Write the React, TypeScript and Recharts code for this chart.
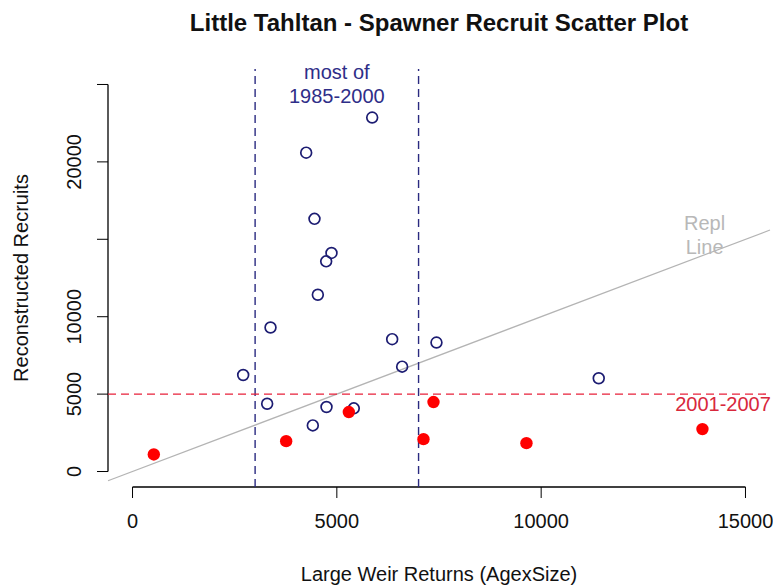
import React from "react";
import {
    ScatterChart,
    Scatter,
    XAxis,
    YAxis,
    ReferenceLine,
    ReferenceDot,
} from "recharts";

// 1985-2000 (open circles)
const earlyWeir = [5865, 4250, 4453, 4869, 4739, 4535, 2708, 3377, 3295, 6354, 6598, 7438, 4747, 5415, 4412, 11409];
const earlyRecruits = [22863, 20596, 16321, 14119, 13575, 11418, 6237, 9301, 4378, 8549, 6775, 8329, 4165, 4080, 2979, 6023];

// 2001-2007 (filled red)
const lateWeir = [521, 3760, 5293, 7365, 7120, 9640, 13947];
const lateRecruits = [1101, 1962, 3841, 4488, 2092, 1833, 2740];

const xTicks = [0, 5000, 10000, 15000];
const yTicks = [0, 5000, 10000, 15000, 20000, 25000];
const yTickLabels = ["0", "5000", "10000", "", "20000", ""];

const X_DOMAIN: [number, number] = [-600, 15600];
const Y_DOMAIN: [number, number] = [-1000, 26000];

const NAVY = "#1c1c72";
const RED = "#ff0000";
const FONT = "'Liberation Sans', Arial, sans-serif";

const earlyData = earlyWeir.map((x, i) => ({ x, y: earlyRecruits[i] }));
const lateData = lateWeir.map((x, i) => ({ x, y: lateRecruits[i] }));

const XTick = ({ x, y, payload }: any) => (
    <text x={x} y={y + 28} textAnchor="middle" fontSize={20} fontFamily={FONT} fill="#111">
        {payload.value}
    </text>
);

const YTick = ({ x, y, payload }: any) => {
    const idx = yTicks.indexOf(payload.value);
    const label = yTickLabels[idx];
    if (!label) return null;
    return (
        <text
            transform={`translate(${x - 14},${y}) rotate(-90)`}
            textAnchor="middle"
            fontSize={20}
            fontFamily={FONT}
            fill="#111"
        >
            {label}
        </text>
    );
};

const OpenCircle = (props: any) => (
    <circle cx={props.cx} cy={props.cy} r={5.4} fill="none" stroke={NAVY} strokeWidth={1.7} />
);

const FilledCircle = (props: any) => <circle cx={props.cx} cy={props.cy} r={6.2} fill={RED} stroke="none" />;

const multiLine = (lines: string[], color: string, lineGap: number) => (props: any) => {
    const vb = props.viewBox || {};
    const cx = vb.x + (vb.width || 0) / 2;
    const cy = vb.y + (vb.height || 0) / 2;
    const start = cy - ((lines.length - 1) * lineGap) / 2 + 7;
    return (
        <text textAnchor="middle" fontSize={20} fontFamily={FONT} fill={color}>
            {lines.map((l, i) => (
                <tspan key={i} x={cx} y={start + i * lineGap}>
                    {l}
                </tspan>
            ))}
        </text>
    );
};

export default function App() {
    return (
        <div style={{ position: "absolute", left: 0, top: 0, width: 773, height: 586, background: "#fff" }}>
            <ScatterChart width={773} height={586} margin={{ top: 69, right: 3, bottom: 0, left: 0 }}>
                <XAxis
                    type="number"
                    dataKey="x"
                    domain={X_DOMAIN}
                    ticks={xTicks}
                    interval={0}
                    allowDataOverflow
                    height={99}
                    axisLine={false}
                    tickLine={{ stroke: "#000" }}
                    tickSize={11}
                    tick={<XTick />}
                />
                <YAxis
                    type="number"
                    dataKey="y"
                    domain={Y_DOMAIN}
                    ticks={yTicks}
                    interval={0}
                    allowDataOverflow
                    width={108}
                    axisLine={false}
                    tickLine={{ stroke: "#000" }}
                    tickSize={11}
                    tick={<YTick />}
                />
                {/* axis lines only span the first to last tick, as in base R */}
                <ReferenceLine segment={[{ x: 0, y: Y_DOMAIN[0] }, { x: 15000, y: Y_DOMAIN[0] }]} stroke="#000" strokeWidth={1.3} />
                <ReferenceLine segment={[{ x: X_DOMAIN[0], y: 0 }, { x: X_DOMAIN[0], y: 25000 }]} stroke="#000" strokeWidth={1.3} />

                {/* replacement line y = x */}
                <ReferenceLine
                    segment={[{ x: X_DOMAIN[0], y: X_DOMAIN[0] }, { x: X_DOMAIN[1], y: X_DOMAIN[1] }]}
                    stroke="#b4b4b4"
                    strokeWidth={1.2}
                />
                <ReferenceLine x={3000} stroke="#2a2a80" strokeDasharray="8 5" strokeWidth={1.4} />
                <ReferenceLine x={7000} stroke="#2a2a80" strokeDasharray="8 5" strokeWidth={1.4} />
                <ReferenceLine y={5000} stroke="#e8203a" strokeDasharray="8 5" strokeWidth={1.4} />

                <Scatter data={earlyData} shape={<OpenCircle />} isAnimationActive={false} />
                <Scatter data={lateData} shape={<FilledCircle />} isAnimationActive={false} />

                <ReferenceDot x={5000} y={25000} r={0} stroke="none" label={{ content: multiLine(["most of", "1985-2000"], "#2e2e88", 24) }} />
                <ReferenceDot x={14000} y={15300} r={0} stroke="none" label={{ content: multiLine(["Repl", "Line"], "#b8b8b8", 24) }} />
                <ReferenceDot x={14450} y={4350} r={0} stroke="none" label={{ content: multiLine(["2001-2007"], "#d8283c", 24) }} />

                <text x={439} y={31} textAnchor="middle" fontSize={24} fontWeight="bold" fontFamily={FONT} fill="#111">
                    Little Tahltan - Spawner Recruit Scatter Plot
                </text>
                <text x={439} y={581} textAnchor="middle" fontSize={20} fontFamily={FONT} fill="#111">
                    Large Weir Returns (AgexSize)
                </text>
                <text transform="translate(28,278) rotate(-90)" textAnchor="middle" fontSize={20} fontFamily={FONT} fill="#111">
                    Reconstructed Recruits
                </text>
            </ScatterChart>
        </div>
    );
}
